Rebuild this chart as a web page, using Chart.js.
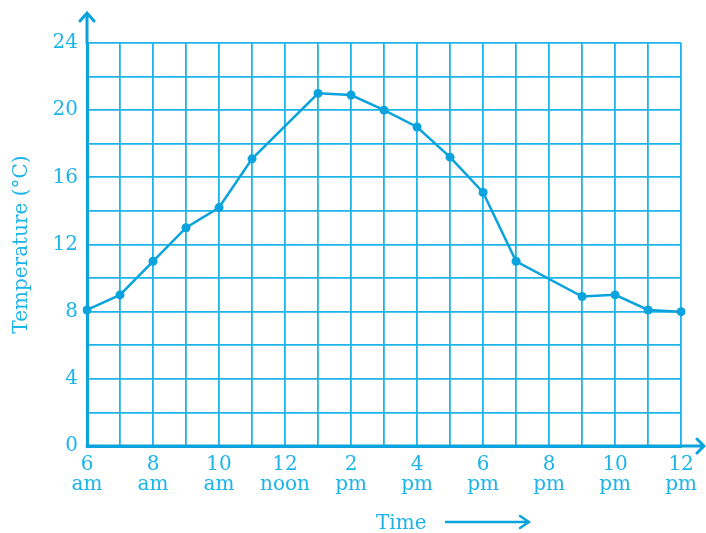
<!DOCTYPE html>
<html lang="en">
<head>
<meta charset="UTF-8" />
<script src="https://cdn.jsdelivr.net/npm/chart.js@4/dist/chart.umd.min.js"></script>
<title>Temperature through the day</title>
<style>
  html, body { margin: 0; padding: 0; background: #fff; }
  #wrap { width: 706px; height: 533px; }
</style>
</head>
<body>
<div id="wrap"><canvas id="myChart" width="706" height="533"></canvas></div>
<script>
// one entry per hour, 6 am to 12 midnight; only even hours get a label
const timeLabels = [
  ['6', 'am'], '', ['8', 'am'], '', ['10', 'am'], '', ['12', 'noon'], '',
  ['2', 'pm'], '', ['4', 'pm'], '', ['6', 'pm'], '', ['8', 'pm'], '',
  ['10', 'pm'], '', ['12', 'pm']
];
// temperature in °C (no reading at 12 noon and 8 pm)
const temps = [8.1, 9, 11, 13, 14.2, 17.1, null, 21, 20.9, 20, 19, 17.2, 15.1, 11, null, 8.9, 9, 8.1, 8];
const yTicks = [0, 4, 8, 12, 16, 20, 24];

const cyan = '#1db4ea';
const dark = '#0aa3dd';
const serif = "'DejaVu Serif', 'Liberation Serif', serif";

// arrows on the axes and the "Time ->" caption
const arrows = {
  id: 'arrows',
  afterDraw(chart) {
    const { ctx, chartArea: a } = chart;
    ctx.save();
    ctx.strokeStyle = dark;
    ctx.lineWidth = 3;
    ctx.lineCap = 'round';
    ctx.beginPath();
    ctx.moveTo(a.left, a.bottom); ctx.lineTo(704, a.bottom);
    ctx.moveTo(697, a.bottom - 7); ctx.lineTo(704, a.bottom); ctx.lineTo(697, a.bottom + 7);
    ctx.moveTo(a.left, a.top); ctx.lineTo(a.left, 13);
    ctx.moveTo(a.left - 7, 21); ctx.lineTo(a.left, 13); ctx.lineTo(a.left + 7, 21);
    ctx.stroke();

    ctx.fillStyle = cyan;
    ctx.font = '20px ' + serif;
    ctx.textBaseline = 'alphabetic';
    ctx.textAlign = 'left';
    ctx.fillText('Time', 376, 529);
    ctx.lineWidth = 2.5;
    ctx.beginPath();
    ctx.moveTo(446, 522); ctx.lineTo(529, 522);
    ctx.moveTo(520, 516); ctx.lineTo(529, 522); ctx.lineTo(520, 528);
    ctx.stroke();
    ctx.restore();
  }
};

const ctx = document.getElementById('myChart').getContext('2d');
new Chart(ctx, {
  type: 'line',
  data: {
    labels: timeLabels,
    datasets: [{
      data: temps,
      spanGaps: true,
      borderColor: dark,
      backgroundColor: dark,
      borderWidth: 2.5,
      pointRadius: 4.5,
      pointBackgroundColor: dark,
      pointBorderWidth: 0,
      tension: 0,
      fill: false
    }]
  },
  options: {
    responsive: false,
    animation: false,
    layout: { padding: { left: 10, right: 23, top: 43, bottom: 0 } },
    plugins: { legend: { display: false }, tooltip: { enabled: false } },
    scales: {
      x: {
        type: 'category',
        offset: false,
        grid: { color: cyan, lineWidth: 1.8, drawTicks: false },
        border: { color: dark, width: 3 },
        ticks: {
          color: cyan,
          autoSkip: false,
          maxRotation: 0,
          padding: 9,
          font: { family: serif, size: 20, lineHeight: 1.0 }
        },
        afterFit(scale) { scale.height = 87; }
      },
      y: {
        min: 0,
        max: 24,
        grid: { color: cyan, lineWidth: 1.8, drawTicks: false },
        border: { color: dark, width: 3 },
        ticks: {
          stepSize: 2,
          color: cyan,
          padding: 9,
          font: { family: serif, size: 20 },
          callback: v => yTicks.includes(v) ? String(v) : ''
        },
        title: {
          display: true,
          text: 'Temperature (°C)',
          color: cyan,
          font: { family: serif, size: 20 },
          padding: { top: 0, bottom: 0 }
        },
        afterFit(scale) { scale.width = 77; }
      }
    }
  },
  plugins: [arrows]
});
</script>
</body>
</html>
